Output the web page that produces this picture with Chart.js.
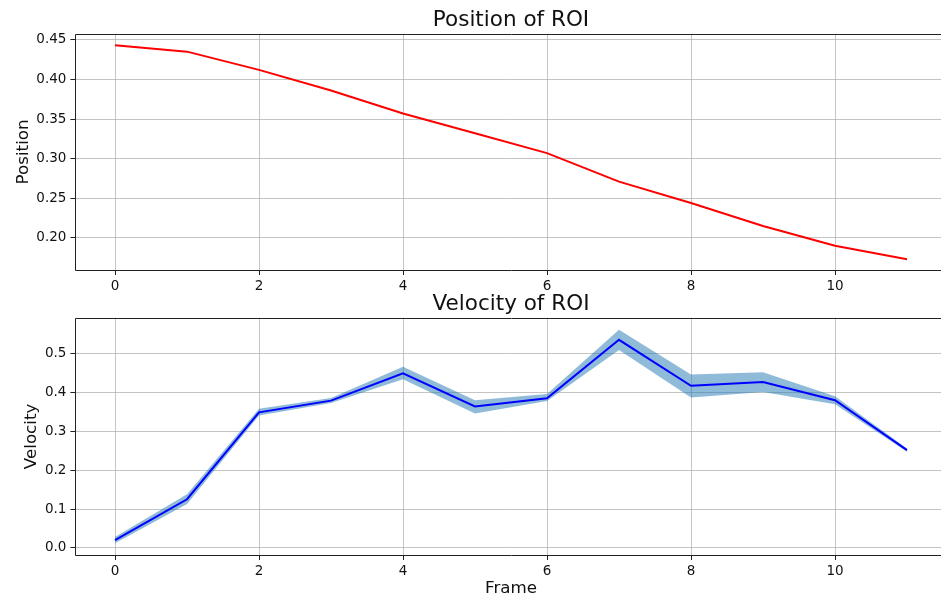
<!DOCTYPE html>
<html>
<head>
<meta charset="utf-8">
<script src="https://cdn.jsdelivr.net/npm/chart.js@4"></script>
<style>
  html, body { margin: 0; padding: 0; background: #fff; overflow: hidden; width: 941px; height: 599px; }
  #janela { position: absolute; left: 0; top: 0; width: 941px; height: 599px; overflow: hidden; }
  .painel { position: absolute; left: 0; width: 960px; }
  #painelPos { top: 0; height: 300px; }
  #painelVel { top: 280px; height: 319px; }
</style>
</head>
<body>
<div id="janela">
  <div id="painelPos" class="painel"><canvas id="graficoPos"></canvas></div>
  <div id="painelVel" class="painel"><canvas id="graficoVel"></canvas></div>
</div>
<script>
const frames = [0, 1, 2, 3, 4, 5, 6, 7, 8, 9, 10, 11];
const posicao = [0.443, 0.435, 0.412, 0.386, 0.357, 0.332, 0.307, 0.271, 0.244, 0.215, 0.190, 0.173];
const velocidade = [0.020, 0.125, 0.348, 0.378, 0.448, 0.363, 0.384, 0.534, 0.416, 0.426, 0.379, 0.251];
const velMin = [0.012, 0.113, 0.340, 0.372, 0.433, 0.345, 0.377, 0.508, 0.386, 0.400, 0.369, 0.247];
const velMax = [0.028, 0.138, 0.357, 0.385, 0.465, 0.379, 0.395, 0.560, 0.445, 0.451, 0.389, 0.255];
const ticksX = [0, 2, 4, 6, 8, 10];
const ticksPos = [0.20, 0.25, 0.30, 0.35, 0.40, 0.45];
const ticksVel = [0.0, 0.1, 0.2, 0.3, 0.4, 0.5];

const fonte = "'DejaVu Sans', sans-serif";

// desenha a caixa em volta da area do grafico (o lado direito fica fora da janela)
const moldura = {
  id: "moldura",
  afterDraw(chart) {
    const { ctx, chartArea: a } = chart;
    const l = Math.round(a.left) + 0.5, t = Math.round(a.top) + 0.5;
    const b = Math.round(a.bottom) + 0.5, r = Math.round(a.right) + 0.5;
    ctx.save();
    ctx.strokeStyle = "#222";
    ctx.lineWidth = 1;
    ctx.beginPath();
    ctx.moveTo(r, t);
    ctx.lineTo(l, t);
    ctx.lineTo(l, b);
    ctx.lineTo(r, b);
    ctx.stroke();
    ctx.restore();
  }
};

function pontos(valores) {
  return frames.map((f, i) => ({ x: f, y: valores[i] }));
}

function grade() {
  return { color: "rgba(176,176,176,0.75)", lineWidth: 1, tickColor: "#222", tickLength: 5, tickWidth: 1 };
}

function eixoX(tituloX, alturaEixo) {
  return {
    type: "linear",
    min: -0.55,
    max: 11.55,
    grid: grade(),
    border: { display: false },
    afterBuildTicks: (s) => { s.ticks = ticksX.map(v => ({ value: v })); },
    afterFit: (s) => { s.height = alturaEixo; },
    ticks: { autoSkip: false, maxRotation: 0, padding: 3, color: "#111", font: { family: fonte, size: 13.5 } },
    title: tituloX ? { display: true, text: tituloX, color: "#111", padding: { top: 0, bottom: 0 }, font: { family: fonte, size: 16.7 } } : { display: false }
  };
}

function eixoY(min, max, lista, casas, tituloY, recuo) {
  return {
    type: "linear",
    min: min,
    max: max,
    grid: grade(),
    border: { display: false },
    afterBuildTicks: (s) => { s.ticks = lista.map(v => ({ value: v })); },
    afterFit: (s) => { s.width = 75.4; },
    ticks: { autoSkip: false, padding: 4, color: "#111", font: { family: fonte, size: 13.5 }, callback: (v) => Number(v).toFixed(casas) },
    title: { display: true, text: tituloY, color: "#111", padding: { top: recuo, bottom: 0 }, font: { family: fonte, size: 16.7 } }
  };
}

// titulo centrado sobre a area do grafico
function titulo(texto, topo, baixo) {
  return { display: true, fullSize: false, text: texto, color: "#111", padding: { top: topo, bottom: baixo }, font: { family: fonte, size: 21.5, weight: "normal" } };
}

// grafico da posicao
new Chart(document.getElementById("graficoPos"), {
  type: "line",
  data: {
    datasets: [{
      data: pontos(posicao),
      borderColor: "#ff0000",
      borderWidth: 2,
      pointRadius: 0,
      tension: 0,
      fill: false
    }]
  },
  options: {
    responsive: true,
    maintainAspectRatio: false,
    animation: false,
    layout: { padding: { left: 0, right: 13.4, top: 0, bottom: 0 } },
    plugins: { legend: { display: false }, tooltip: { enabled: false }, title: titulo("Position of ROI", 8, 0) },
    scales: {
      x: eixoX(null, 30),
      y: eixoY(0.1595, 0.4575, ticksPos, 2, "Position", 13.2)
    }
  },
  plugins: [moldura]
});

// grafico da velocidade com a faixa de erro
new Chart(document.getElementById("graficoVel"), {
  type: "line",
  data: {
    datasets: [
      {
        data: pontos(velocidade),
        borderColor: "#0000ff",
        borderWidth: 2,
        pointRadius: 0,
        tension: 0,
        fill: false,
        order: 0
      },
      {
        data: pontos(velMin),
        borderWidth: 0,
        borderColor: "rgba(0,0,0,0)",
        pointRadius: 0,
        tension: 0,
        fill: false,
        order: 1
      },
      {
        data: pontos(velMax),
        borderWidth: 0,
        borderColor: "rgba(0,0,0,0)",
        backgroundColor: "rgba(31,119,180,0.5)",
        pointRadius: 0,
        tension: 0,
        fill: 1,
        order: 2
      }
    ]
  },
  options: {
    responsive: true,
    maintainAspectRatio: false,
    animation: false,
    layout: { padding: { left: 0, right: 13.4, top: 0, bottom: 0 } },
    plugins: { legend: { display: false }, tooltip: { enabled: false }, title: titulo("Velocity of ROI", 12, 0) },
    scales: {
      x: eixoX("Frame", 44),
      y: eixoY(-0.018, 0.5905, ticksVel, 1, "Velocity", 21.5)
    }
  },
  plugins: [moldura]
});
</script>
</body>
</html>
